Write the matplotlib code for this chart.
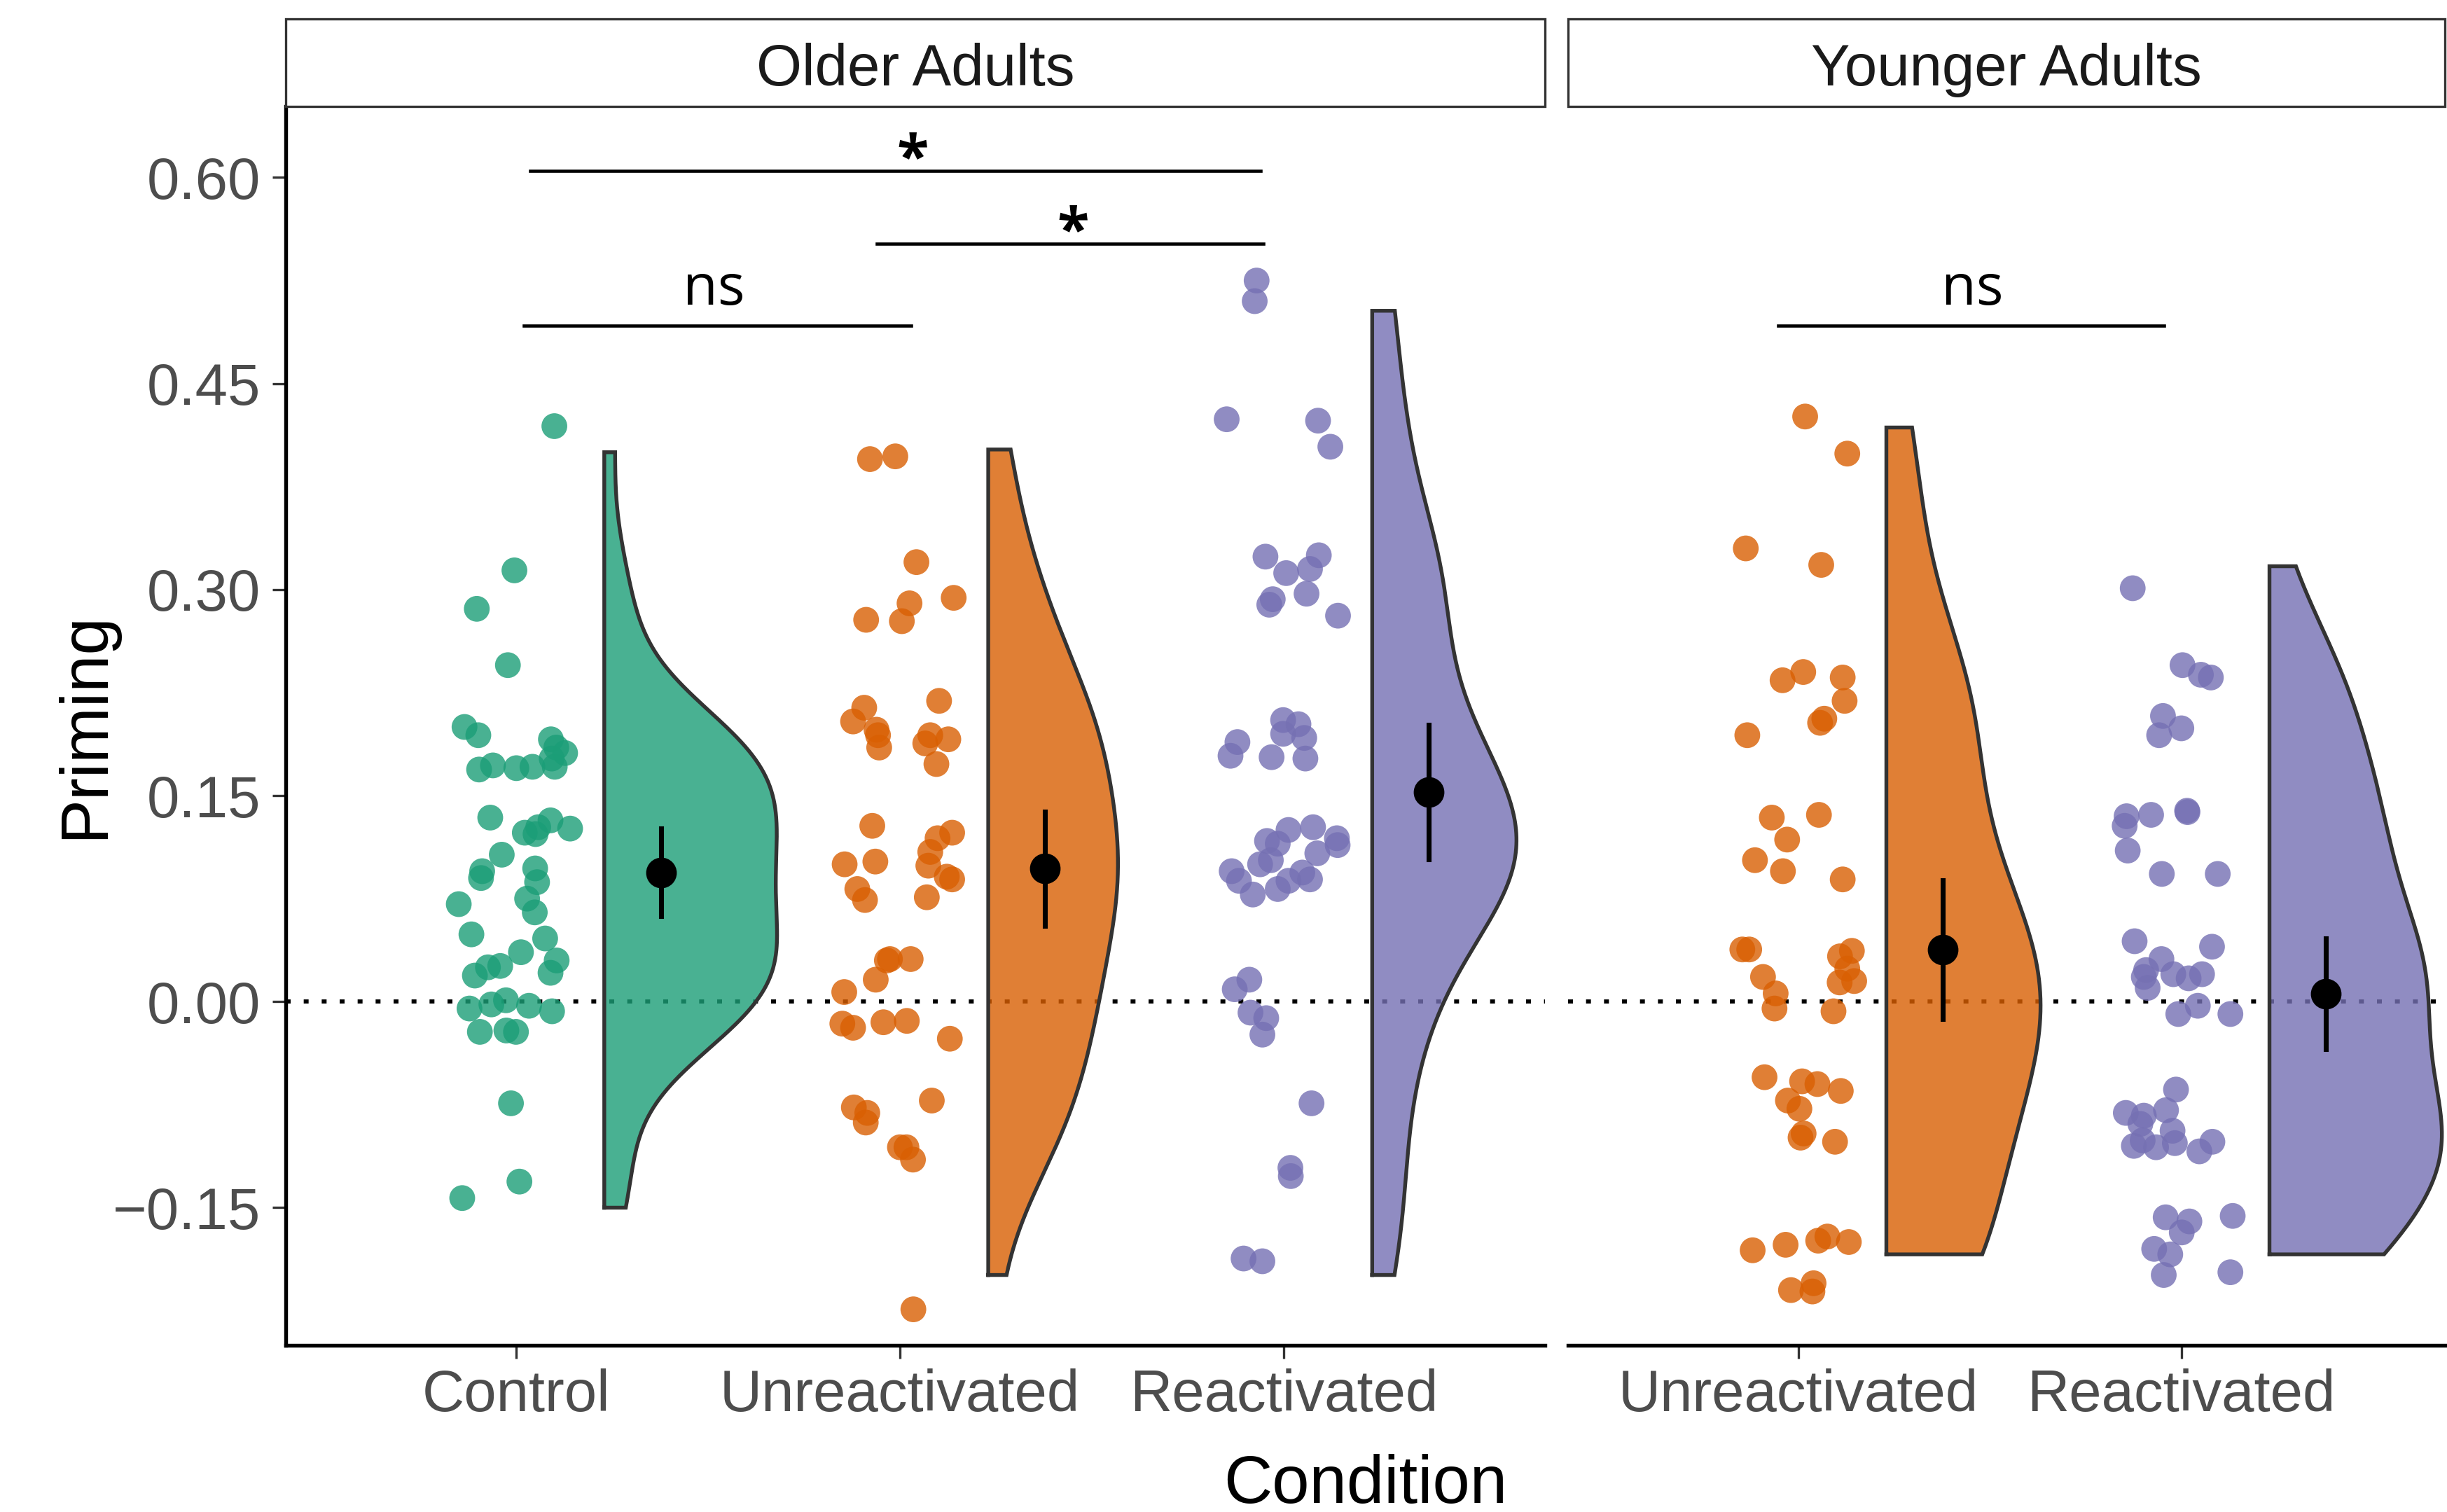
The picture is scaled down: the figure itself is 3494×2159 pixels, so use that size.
import numpy as np
import matplotlib
matplotlib.use("Agg")
import matplotlib.pyplot as plt
from matplotlib.patches import Rectangle

# ---------------- data ----------------
panels = ["Older Adults", "Younger Adults"]
older_conditions = ["Control", "Unreactivated", "Reactivated"]
younger_conditions = ["Unreactivated", "Reactivated"]

older_control = [0.419, 0.314, 0.286, 0.245, 0.200, 0.194, 0.191, 0.185, 0.181, 0.169,
                 0.172, 0.170, 0.171, 0.177, 0.171, 0.134, 0.123, 0.122, 0.127, 0.132,
                 0.126, 0.107, 0.095, 0.090, 0.097, 0.087, 0.071, 0.075, 0.065, 0.049,
                 0.046, 0.036, 0.030, 0.025, 0.026, 0.019, 0.021, -0.005, -0.002, 0.001,
                 -0.003, -0.007, -0.022, -0.021, -0.022, -0.074, -0.131, -0.143]
older_control_jitter = [0.100, -0.004, -0.102, -0.021, -0.134, -0.098, 0.091, 0.105, 0.128, -0.096,
                        -0.060, 0.001, 0.043, 0.093, 0.101, -0.067, 0.023, 0.051, 0.058, 0.090,
                        0.141, -0.037, -0.088, -0.091, 0.050, 0.055, -0.149, 0.029, 0.049, -0.116,
                        0.076, 0.013, 0.106, -0.073, -0.041, -0.107, 0.090, -0.121, -0.064, -0.026,
                        0.034, 0.094, -0.094, -0.025, 0.000, -0.013, 0.009, -0.140]
older_control_range = (-0.150, 0.400)

older_unreact = [0.395, 0.397, 0.320, 0.294, 0.290, 0.278, 0.277, 0.219, 0.214, 0.204,
                 0.198, 0.194, 0.185, 0.194, 0.188, 0.191, 0.173, 0.128, 0.119, 0.123,
                 0.109, 0.100, 0.102, 0.099, 0.091, 0.089, 0.082, 0.074, 0.076, 0.031,
                 0.030, 0.031, 0.016, 0.007, -0.016, -0.019, -0.015, -0.014, -0.027, -0.072,
                 -0.077, -0.081, -0.088, -0.106, -0.106, -0.115, -0.224]
older_unreact_jitter = [-0.078, -0.012, 0.043, 0.140, 0.025, -0.088, 0.005, 0.102, -0.093, -0.122,
                        -0.061, -0.057, -0.054, 0.079, 0.066, 0.126, 0.095, -0.072, 0.098, 0.136,
                        0.079, -0.144, -0.064, 0.074, 0.122, 0.136, -0.111, -0.091, 0.070, -0.026,
                        -0.034, 0.028, -0.063, -0.145, -0.150, -0.122, -0.043, 0.018, 0.130, 0.083,
                        -0.120, -0.085, -0.089, 0.000, 0.017, 0.034, 0.035]
older_unreact_range = (-0.199, 0.402)

older_react = [0.525, 0.510, 0.424, 0.423, 0.404, 0.324, 0.325, 0.312, 0.315, 0.297,
               0.293, 0.289, 0.281, 0.205, 0.202, 0.195, 0.192, 0.189, 0.179, 0.178,
               0.177, 0.125, 0.127, 0.119, 0.117, 0.115, 0.114, 0.108, 0.103, 0.100,
               0.095, 0.094, 0.089, 0.088, 0.088, 0.082, 0.078, 0.016, 0.009, -0.008,
               -0.012, -0.024, -0.074, -0.121, -0.127, -0.187, -0.189]
older_react_jitter = [-0.071, -0.076, -0.149, 0.089, 0.121, -0.048, 0.091, 0.006, 0.068, 0.059,
                      -0.029, -0.038, 0.141, -0.002, 0.038, -0.002, 0.053, -0.121, -0.139, -0.032,
                      0.056, 0.012, 0.076, 0.138, -0.044, -0.016, 0.140, 0.087, -0.034, -0.062,
                      -0.136, 0.048, 0.068, -0.117, 0.012, -0.016, -0.081, -0.090, -0.128, -0.087,
                      -0.046, -0.056, 0.072, 0.017, 0.018, -0.105, -0.056]
older_react_range = (-0.199, 0.503)

younger_unreact = [0.426, 0.399, 0.330, 0.318, 0.240, 0.234, 0.236, 0.219, 0.206, 0.203,
                   0.194, 0.134, 0.136, 0.118, 0.103, 0.095, 0.089, 0.038, 0.038, 0.037,
                   0.033, 0.024, 0.015, 0.014, 0.018, 0.006, -0.005, -0.007, -0.055, -0.058,
                   -0.060, -0.065, -0.072, -0.078, -0.096, -0.099, -0.102, -0.181, -0.177, -0.174,
                   -0.171, -0.175, -0.210, -0.205, -0.211]
younger_unreact_jitter = [0.018, 0.128, -0.137, 0.060, 0.013, -0.041, 0.116, 0.121, 0.068, 0.057,
                          -0.133, -0.069, 0.054, -0.029, -0.113, -0.040, 0.116, -0.146, -0.128, 0.140,
                          0.109, 0.128, 0.146, 0.108, -0.092, -0.059, -0.062, 0.092, -0.088, 0.010,
                          0.050, 0.111, -0.027, 0.003, 0.014, 0.006, 0.096, -0.119, -0.033, 0.052,
                          0.076, 0.132, -0.019, 0.040, 0.037]
younger_unreact_range = (-0.184, 0.418)

younger_react = [0.301, 0.245, 0.238, 0.236, 0.208, 0.199, 0.194, 0.135, 0.128, 0.136,
                 0.139, 0.138, 0.110, 0.093, 0.093, 0.044, 0.040, 0.031, 0.023, 0.018,
                 0.020, 0.017, 0.020, 0.010, -0.003, -0.009, -0.009, -0.064, -0.081, -0.083,
                 -0.079, -0.089, -0.094, -0.105, -0.101, -0.106, -0.103, -0.109, -0.102, -0.157,
                 -0.160, -0.168, -0.156, -0.180, -0.184, -0.199, -0.197]
younger_react_jitter = [-0.127, 0.003, 0.051, 0.077, -0.048, 0.000, -0.058, -0.143, -0.148, -0.079,
                        0.015, 0.016, -0.140, -0.051, 0.095, -0.122, 0.080, -0.052, -0.092, -0.098,
                        -0.021, 0.019, 0.054, -0.088, 0.043, -0.008, 0.128, -0.014, -0.145, -0.098,
                        -0.040, -0.107, -0.023, -0.124, -0.101, -0.066, -0.017, 0.047, 0.081, -0.041,
                        0.021, 0.001, 0.134, -0.071, -0.029, -0.046, 0.128]
younger_react_range = (-0.184, 0.317)

y_ticks = [-0.15, 0.00, 0.15, 0.30, 0.45, 0.60]
y_tick_labels = ["\u22120.15", "0.00", "0.15", "0.30", "0.45", "0.60"]

# significance annotations: (x_start, x_end, y, label, label_x)
sig_older = [(1.037, 2.939, 0.605, "*", 2.033),
             (1.939, 2.947, 0.552, "*", 2.451),
             (1.020, 2.030, 0.492, "ns", 1.516)]
sig_younger = [(0.947, 1.955, 0.492, "ns", 1.455)]

# ---------------- styling ----------------
c_green, c_orange, c_purple = "#1B9E77", "#D95F02", "#7570B3"
ALPHA = 0.8
OUTLINE = "#333333"
NUDGE = 0.23
MEAN_NUDGE = 0.378
HALF_W = 0.45
TXT = "#4D4D4D"
FONT = ["Liberation Sans", "DejaVu Sans"]
plt.rcParams['font.family'] = FONT

W, H = 3494, 2159
fig = plt.figure(figsize=(W / 300, H / 300), dpi=300)

ylo, yhi = -0.25, 0.652
bottom, top = 1 - 862 / 969, 1 - 68 / 969
ax1 = fig.add_axes([183 / 1568, bottom, (990 - 183) / 1568, top - bottom])
ax2 = fig.add_axes([1005 / 1568, bottom, (1568 - 1005) / 1568 - 0.001, top - bottom])


def nrd0(x):
    x = np.asarray(x)
    sd = np.std(x, ddof=1)
    q75, q25 = np.percentile(x, [75, 25])
    lo = min(sd, (q75 - q25) / 1.34)
    return 0.9 * lo * len(x) ** (-0.2)


def kde(x, rng):
    x = np.asarray(x)
    bw = nrd0(x)
    grid = np.linspace(rng[0], rng[1], 512)
    d = np.exp(-0.5 * ((grid[:, None] - x[None, :]) / bw) ** 2).sum(axis=1)
    d /= (len(x) * bw * np.sqrt(2 * np.pi))
    return grid, d


def draw_panel(ax, groups, colors, sigs, xlim):
    dens = [kde(g, r) for g, _, r in groups]
    dmax = max(d.max() for _, d in dens)
    for i, ((vals, jit, _), col, (grid, d)) in enumerate(zip(groups, colors, dens)):
        xc = i + 1
        vals = np.asarray(vals)
        # half violin
        x0 = xc + NUDGE
        xs = np.concatenate([[x0], x0 + d / dmax * HALF_W, [x0]])
        ys = np.concatenate([[grid[0]], grid, [grid[-1]]])
        ax.fill(xs, ys, facecolor=col, alpha=ALPHA, edgecolor="none", zorder=2)
        ax.plot(np.append(xs, xs[0]), np.append(ys, ys[0]), color=OUTLINE, lw=1.3,
                zorder=3, solid_joinstyle="miter")
        # jittered points
        ax.scatter(xc + np.asarray(jit), vals, s=78, color=col, alpha=ALPHA,
                   edgecolors="none", zorder=4)
        # mean + 95% CI
        m = vals.mean()
        ci = 2.013 * vals.std(ddof=1) / np.sqrt(len(vals))
        ax.plot([xc + MEAN_NUDGE] * 2, [m - ci, m + ci], color="black", lw=1.7, zorder=5)
        ax.plot(xc + MEAN_NUDGE, m, "o", color="black", ms=9.5, zorder=6)
    ax.axhline(0, color="black", lw=1.4, linestyle=(0, (1.2, 3.2)), zorder=1)
    for x1, x2, y, lab, lx in sigs:
        ax.plot([x1, x2], [y, y], color="black", lw=1.1, zorder=5)
        if lab == "*":
            ax.text(lx, y - 0.004, lab, ha="center", va="baseline",
                    fontsize=20, fontweight="bold", family=["Open Sans", "DejaVu Sans"])
        else:
            ax.text(lx, y + 0.006, lab, ha="center", va="bottom",
                    fontsize=19.5, family=["Open Sans", "DejaVu Sans"])
    ax.set_xlim(*xlim)
    ax.set_ylim(ylo, yhi)
    for s in ["top", "right"]:
        ax.spines[s].set_visible(False)
    ax.spines["bottom"].set_linewidth(1.3)
    ax.spines["left"].set_linewidth(1.3)
    ax.tick_params(axis="x", length=4.5, width=0.8, color=OUTLINE, labelsize=20,
                   labelcolor=TXT, pad=3.5)
    ax.tick_params(axis="y", length=4.5, width=0.8, color=OUTLINE, labelsize=20,
                   labelcolor=TXT, pad=4)


draw_panel(ax1,
           [(older_control, older_control_jitter, older_control_range),
            (older_unreact, older_unreact_jitter, older_unreact_range),
            (older_react, older_react_jitter, older_react_range)],
           [c_green, c_orange, c_purple], sig_older, (0.40, 3.68))
ax1.set_xticks([1, 2, 3])
ax1.set_xticklabels(older_conditions)
ax1.set_yticks(y_ticks)
ax1.set_yticklabels(y_tick_labels)

draw_panel(ax2,
           [(younger_unreact, younger_unreact_jitter, younger_unreact_range),
            (younger_react, younger_react_jitter, younger_react_range)],
           [c_orange, c_purple], sig_younger, (0.40, 2.687))
ax2.set_xticks([1, 2])
ax2.set_xticklabels(younger_conditions)
ax2.spines["left"].set_visible(False)
ax2.set_yticks([])

# facet strips
for ax, title in zip([ax1, ax2], panels):
    pos = ax.get_position()
    sb = 1 - 68 / 969
    st = 1 - 12 / 969
    rect = Rectangle((pos.x0, sb), pos.width, st - sb, transform=fig.transFigure,
                     facecolor="white", edgecolor=OUTLINE, lw=0.8, clip_on=False)
    fig.add_artist(rect)
    fig.text(pos.x0 + pos.width / 2, 1 - 45 / 969, title, ha="center", va="center",
             fontsize=20, color="#1A1A1A")

fig.text(55 / 1568, (1 - 465 / 969), "Priming", rotation=90, ha="center", va="center",
         fontsize=23)
fig.text(875 / 1568, 1 - 963 / 969, "Condition", ha="center", va="baseline", fontsize=23)

fig.savefig("out.png", dpi=300)
